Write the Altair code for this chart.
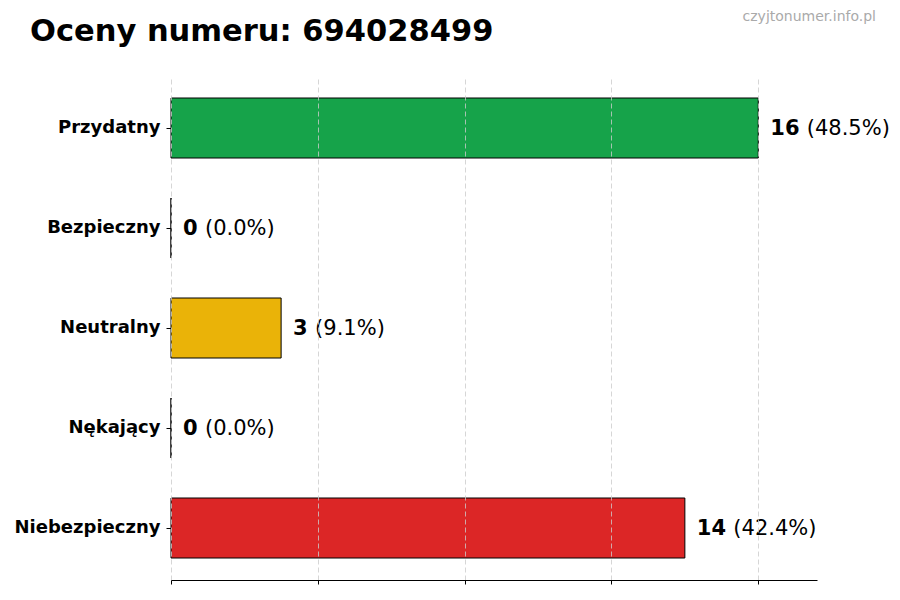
import altair as alt
import pandas as pd

categories = ["Przydatny", "Bezpieczny", "Neutralny", "Nękający", "Niebezpieczny"]
counts = [16, 0, 3, 0, 14]
colors = ["#16a34a", "#6b7280", "#eab308", "#f97316", "#dc2626"]
x_ticks = [0, 4, 8, 12, 16]
x_max = 17.6
title_text = "Oceny numeru: 694028499"
watermark_text = "czyjtonumer.info.pl"

total = sum(counts)
df = pd.DataFrame({
    "kategoria": categories,
    "liczba": counts,
    "kolor": colors,
    "num": [str(c) for c in counts],
    "pct": [f"({c / total * 100:.1f}%)" for c in counts],
})

FONT = "DejaVu Sans"

base = alt.Chart(df)

y_enc = alt.Y(
    "kategoria:N",
    sort=categories,
    title=None,
    scale=alt.Scale(paddingInner=0.4, paddingOuter=0.22),
    axis=alt.Axis(
        labelFont=FONT, labelFontSize=18, labelFontWeight="bold", labelColor="black",
        tickSize=5, tickColor="black", tickWidth=1, labelPadding=6,
        domain=False, grid=False,
    ),
)
x_enc = alt.X(
    "liczba:Q",
    title=None,
    scale=alt.Scale(domain=[0, x_max], nice=False, zero=True),
    axis=alt.Axis(
        values=x_ticks, labels=False, tickSize=4, tickColor="black", tickWidth=1,
        domainColor="black", domainWidth=1,
        grid=True, gridColor="#cccccc", gridDash=[5, 3], gridWidth=0.8,
        zindex=1,
    ),
)

bars = base.mark_bar(stroke="black", strokeWidth=1).encode(
    x=x_enc,
    y=y_enc,
    color=alt.Color("kolor:N", scale=None),
)

y_plain = alt.Y("kategoria:N", sort=categories)

num_text = base.mark_text(
    align="left", baseline="middle", dx=12, dy=1, font=FONT, fontSize=21,
    fontWeight="bold", color="black",
).encode(x="liczba:Q", y=y_plain, text="num:N")

pct_one = base.transform_filter("datum.liczba < 10").mark_text(
    align="left", baseline="middle", dx=34, dy=1, font=FONT, fontSize=21, color="black",
).encode(x="liczba:Q", y=y_plain, text="pct:N")

pct_two = base.transform_filter("datum.liczba >= 10").mark_text(
    align="left", baseline="middle", dx=48.5, dy=1, font=FONT, fontSize=21, color="black",
).encode(x="liczba:Q", y=y_plain, text="pct:N")

title_mark = alt.Chart(pd.DataFrame({"t": [title_text]})).mark_text(
    align="left", baseline="alphabetic", font=FONT, fontSize=30.5,
    fontWeight="bold", color="black",
).encode(text="t:N", x=alt.value(-141), y=alt.value(-35))

wm_mark = alt.Chart(pd.DataFrame({"t": [watermark_text]})).mark_text(
    align="right", baseline="middle", font=FONT, fontSize=14, color="#aaaaaa",
).encode(text="t:N", x=alt.value(705), y=alt.value(-59))

chart = alt.layer(bars, num_text, pct_one, pct_two, title_mark, wm_mark).properties(
    width=646,
    height=504,
    background="white",
    autosize=alt.AutoSizeParams(type="none"),
    padding={"left": 163, "top": 68, "right": 75, "bottom": 20},
).configure_view(strokeWidth=0, stroke=None)

chart.save("out.html", embed_options={"renderer": "svg", "actions": False})
